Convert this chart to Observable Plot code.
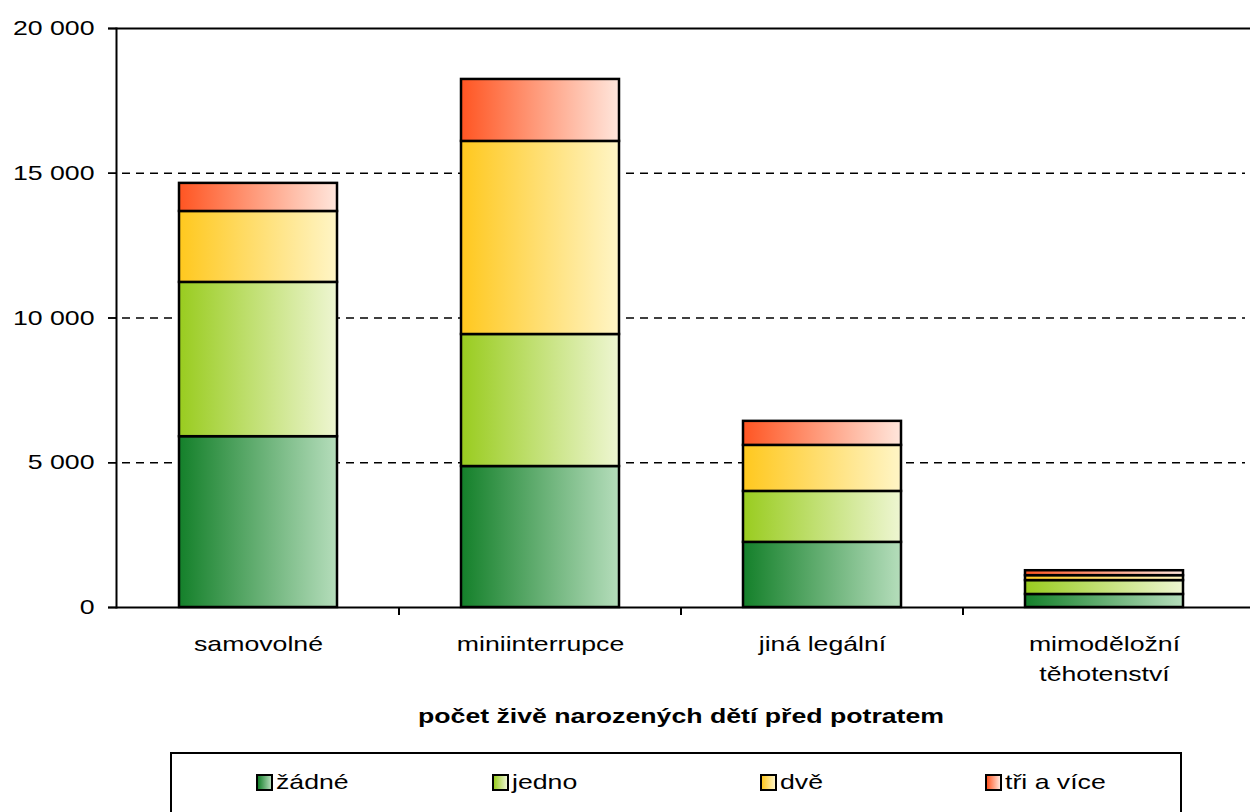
<!DOCTYPE html>
<html>
<head>
<meta charset="utf-8">
<script src="https://cdn.jsdelivr.net/npm/d3@7"></script>
<script src="https://cdn.jsdelivr.net/npm/@observablehq/plot@0.6"></script>
<style>
  body { margin: 0; background: white; font-family: "Liberation Sans", Arial, sans-serif; }
  #wrap { position: relative; width: 1250px; height: 812px; overflow: hidden; }
  #chart svg { display: block; }
  #legend { position: absolute; left: 170px; top: 752px; width: 1012px; height: 80px; border: 2px solid black; box-sizing: border-box; background: white; }
  .item { position: absolute; top: 16px; display: flex; align-items: center; font-size: 21px; color: black; }
  .item span { display: inline-block; transform: scaleX(1.27); transform-origin: left center; }
  .sw { width: 13px; height: 13px; border: 2px solid black; margin-right: 3px; }
</style>
</head>
<body>
<div id="wrap">
  <div id="chart"></div>
  <div id="legend"></div>
</div>
<script>
// ---- data ----
const categories = ["samovolné", "miniinterrupce", "jiná legální", "mimoděložní těhotenství"];
const categoryLabels = ["samovolné", "miniinterrupce", "jiná legální", "mimoděložní\ntěhotenství"];
const series = ["žádné", "jedno", "dvě", "tři a více"];
const zadne   = [5900, 4870, 2250, 450];
const jedno   = [5330, 4560, 1760, 480];
const dve     = [2450, 6670, 1590, 170];
const triVice = [970, 2140, 830, 170];
const yTicks = [0, 5000, 10000, 15000, 20000];
const gridValues = [5000, 10000, 15000];
const xTitle = "počet živě narozených dětí před potratem";

// ---- styles ----
const gradStops = [
  ["#14802a", "#b5ddbb"],
  ["#99cc1f", "#eef6d2"],
  ["#ffc81e", "#fff5c6"],
  ["#ff5522", "#ffe6dc"]
];
const gradIds = series.map((s, i) => "grad" + i);
const textStretch = 1.27;

const seriesValues = [zadne, jedno, dve, triVice];
const data = categories.flatMap((c, i) =>
  series.map((s, j) => ({category: c, series: s, value: seriesValues[j][i]}))
);
const labelOf = new Map(categories.map((c, i) => [c, categoryLabels[i]]));
const fmt = d => d3.format(",")(d).replace(/,/g, " ");

function bandSeparators(cats) {
  return (index, scales, values, dims) => {
    const x = scales.x;
    const bw = x.bandwidth ? x.bandwidth() : 0;
    const y0 = dims.height - dims.marginBottom;
    const g = d3.create("svg:g");
    for (let i = 0; i < cats.length - 1; i++) {
      const xb = (x(cats[i]) + x(cats[i + 1]) + bw) / 2;
      g.append("line").attr("x1", xb).attr("x2", xb).attr("y1", y0).attr("y2", y0 + 8)
        .attr("stroke", "black").attr("stroke-width", 2);
    }
    return g.node();
  };
}

const plot = Plot.plot({
  width: 1250,
  height: 740,
  marginTop: 28,
  marginBottom: 133,
  marginLeft: 116,
  marginRight: 5,
  style: {fontFamily: "'Liberation Sans', Arial, sans-serif", fontSize: "21px", background: "white", color: "black", overflow: "visible"},
  x: {domain: categories, paddingInner: 0.44, paddingOuter: 0.22, label: null},
  y: {domain: [0, 20000], label: null},
  color: {domain: series, range: gradIds.map(id => `url(#${id})`)},
  marks: [
    Plot.ruleY(gridValues, {stroke: "black", strokeWidth: 1.4, strokeDasharray: "8,6", insetLeft: -8}),
    Plot.barY(data, {x: "category", y: "value", fill: "series", stroke: "black", strokeWidth: 2.5}),
    Plot.ruleY([20000], {stroke: "black", strokeWidth: 2, insetLeft: -8, insetRight: -5}),
    Plot.ruleY([0], {stroke: "black", strokeWidth: 2, insetLeft: -8, insetRight: -5}),
    Plot.frame({anchor: "left", stroke: "black", strokeWidth: 2}),
    Plot.axisY({ticks: yTicks, tickFormat: fmt, tickSize: 8, tickPadding: 14, fontSize: 21, strokeWidth: 1.5}),
    Plot.axisX({tickSize: 0, tickPadding: 23, fontSize: 21, lineHeight: 1.4, tickFormat: d => labelOf.get(d)}),
    bandSeparators(categories),
    Plot.text([xTitle], {frameAnchor: "bottom", dy: 109, text: d => d, fontWeight: "bold", fontSize: 21, lineAnchor: "middle"})
  ]
});

// gradient defs
const svg = d3.select(plot);
const defs = svg.insert("defs", ":first-child");
gradIds.forEach((id, i) => {
  const lg = defs.append("linearGradient").attr("id", id).attr("x1", 0).attr("x2", 1).attr("y1", 0).attr("y2", 0);
  lg.append("stop").attr("offset", "0%").attr("stop-color", gradStops[i][0]);
  lg.append("stop").attr("offset", "100%").attr("stop-color", gradStops[i][1]);
});
// horizontally stretched lettering like the reference
svg.selectAll("text").each(function () {
  const t = d3.select(this);
  const tr = t.attr("transform");
  if (tr) t.attr("transform", `${tr} scale(${textStretch},1)`);
  else {
    const x = +t.attr("x") || 0, y = +t.attr("y") || 0;
    t.attr("transform", `translate(${x},${y}) scale(${textStretch},1) translate(${-x},${-y})`);
  }
});
document.getElementById("chart").appendChild(plot);

// legend
const legendLeft = [84, 320, 588, 813];
const legend = d3.select("#legend");
series.forEach((s, i) => {
  const item = legend.append("div").attr("class", "item").style("left", legendLeft[i] + "px");
  item.append("div").attr("class", "sw").style("background", `linear-gradient(to right, ${gradStops[i][0]}, ${gradStops[i][1]})`);
  item.append("span").text(s);
});
</script>
</body>
</html>
